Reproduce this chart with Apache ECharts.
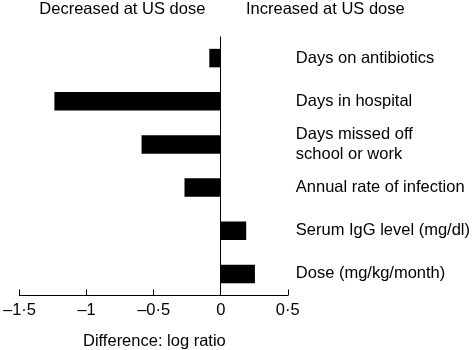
<!DOCTYPE html>
<html>
<head>
<meta charset="utf-8">
<script src="https://cdn.jsdelivr.net/npm/echarts@6/dist/echarts.min.js"></script>
<style>
html,body{margin:0;padding:0;background:#fff;}
#c{width:473px;height:350px;}
</style>
</head>
<body>
<div id="c"></div>
<script>
var categories = [
  "Days on antibiotics",
  "Days in hospital",
  "Days missed off\nschool or work",
  "Annual rate of infection",
  "Serum IgG level (mg/dl)",
  "Dose (mg/kg/month)"
];
var values = [-0.085, -1.24, -0.59, -0.27, 0.19, 0.255];
var tickValues = [-1.5, -1, -0.5, 0, 0.5];
var tickLabels = ["\u20131\u00b75", "\u20131", "\u20130\u00b75", "0", "0\u00b75"];
var topLabels = ["Decreased at US dose", "Increased at US dose"];
var axisTitle = "Difference: log ratio";

var FONT = "'Liberation Sans', Arial, Helvetica, sans-serif";
var chart = echarts.init(document.getElementById('c'), null, {renderer: 'canvas'});
chart.setOption({
  backgroundColor: '#fff',
  animation: false,
  textStyle: {fontFamily: FONT, color: '#000'},
  grid: {left: 17.3, right: 184.3, top: 36.5, bottom: 54.5, containLabel: false},
  xAxis: {
    type: 'value',
    min: -1.5, max: 0.5, interval: 0.5,
    axisLine: {show: true, lineStyle: {color: '#000', width: 1}},
    axisTick: {show: true, inside: true, length: 6, lineStyle: {color: '#000', width: 1}},
    splitLine: {show: false},
    axisLabel: {
      margin: 6.5, fontSize: 16.5, color: '#000', fontFamily: FONT,
      formatter: function (v) {
        for (var i = 0; i < tickValues.length; i++) {
          if (Math.abs(tickValues[i] - v) < 1e-9) return tickLabels[i];
        }
        return '';
      }
    }
  },
  yAxis: {
    type: 'category',
    inverse: true,
    position: 'right',
    data: categories,
    axisLine: {show: false, onZero: false},
    axisTick: {show: false},
    splitLine: {show: false},
    axisLabel: {margin: 8, fontSize: 16.5, lineHeight: 20, color: '#000', fontFamily: FONT, align: 'left'}
  },
  graphic: [
    {type: 'text', left: 39.3, top: 0.5, style: {text: topLabels[0], fontSize: 16.5, fontFamily: FONT, fill: '#000'}},
    {type: 'text', left: 246, top: 0.5, style: {text: topLabels[1], fontSize: 16.5, fontFamily: FONT, fill: '#000'}},
    {type: 'text', left: 83, top: 333, style: {text: axisTitle, fontSize: 16.5, fontFamily: FONT, fill: '#000'}}
  ],
  series: [{
    type: 'bar',
    data: values,
    barWidth: 18.5,
    itemStyle: {color: '#000'},
    silent: true,
    markLine: {
      silent: true,
      symbol: ['none', 'none'],
      label: {show: false},
      lineStyle: {color: '#000', width: 1, type: 'solid'},
      data: [{xAxis: 0}]
    }
  }]
});
</script>
</body>
</html>
